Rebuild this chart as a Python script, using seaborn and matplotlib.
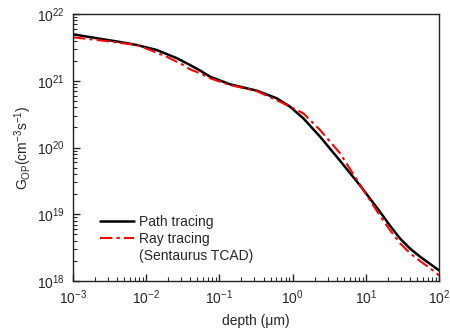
import numpy as np
import pandas as pd
import matplotlib
matplotlib.use('Agg')
import matplotlib.pyplot as plt
import matplotlib.ticker as mticker
import seaborn as sns

sns.set_style('ticks')
plt.rcParams['font.family'] = ['Liberation Sans', 'DejaVu Sans']
plt.rcParams['mathtext.default'] = 'regular'

# path tracing (black), log10 of depth in um and of G_OP
path_logx = [-3.0, -2.586, -2.358, -2.130, -1.857, -1.577, -1.402, -1.265, -1.128,
             -0.855, -0.490, -0.217, -0.036, 0.146, 0.374, 0.648, 0.921, 1.194,
             1.331, 1.467, 1.604, 1.740, 1.877, 2.0]
path_logg = [21.696, 21.621, 21.581, 21.536, 21.461, 21.336, 21.236, 21.154, 21.061,
             20.947, 20.851, 20.737, 20.611, 20.437, 20.162, 19.800, 19.430, 19.034,
             18.825, 18.635, 18.485, 18.364, 18.255, 18.158]

# ray tracing, Sentaurus TCAD (red)
ray_logx = [-3.0, -2.586, -2.130, -1.948, -1.720, -1.493, -1.402, -1.265, -1.128,
            -0.855, -0.490, -0.127, 0.146, 0.374, 0.648, 0.921, 1.194, 1.331,
            1.467, 1.604, 1.740, 1.877, 2.0]
ray_logg = [21.651, 21.600, 21.536, 21.461, 21.360, 21.236, 21.172, 21.112, 21.037,
            20.936, 20.846, 20.662, 20.512, 20.262, 19.913, 19.438, 18.975, 18.760,
            18.565, 18.415, 18.300, 18.190, 18.085]

path = pd.DataFrame({'depth': 10 ** np.array(path_logx), 'G': 10 ** np.array(path_logg)})
ray = pd.DataFrame({'depth': 10 ** np.array(ray_logx), 'G': 10 ** np.array(ray_logg)})

fig = plt.figure(figsize=(4.5, 3.33), dpi=100)
ax = fig.add_axes([0.162, 0.156, 0.814, 0.802])

sns.lineplot(data=path, x='depth', y='G', ax=ax, color='black', lw=1.8,
             label='Path tracing', sort=False)
sns.lineplot(data=ray, x='depth', y='G', ax=ax, color='red', lw=1.5,
             linestyle=(0, (6, 2, 1.5, 2)), label='Ray tracing', sort=False)
# second line of the legend text, no handle
ax.plot([], [], color='none', label='(Sentaurus TCAD)')

ax.set_xscale('log')
ax.set_yscale('log')
ax.set_xlim(1e-3, 1e2)
ax.set_ylim(1e18, 1e22)
ax.xaxis.set_major_locator(mticker.LogLocator(base=10, numticks=10))
ax.yaxis.set_major_locator(mticker.LogLocator(base=10, numticks=10))
ax.xaxis.set_minor_locator(mticker.LogLocator(base=10, subs=np.arange(2, 10), numticks=20))
ax.yaxis.set_minor_locator(mticker.LogLocator(base=10, subs=np.arange(2, 10), numticks=20))
ax.tick_params(which='both', direction='in', top=False, right=False, labelsize=10)
ax.tick_params(which='major', length=5, width=1)
ax.tick_params(which='minor', length=3, width=0.8)
ax.tick_params(axis='y', which='major', pad=6)
ax.tick_params(axis='x', which='major', pad=5)
for s in ax.spines.values():
    s.set_linewidth(1.0)
    s.set_color('#222222')

ax.set_xlabel('depth (\u03bcm)', fontsize=10, labelpad=5)
ax.set_ylabel(r'G$_{OP}$(cm$^{-3}$s$^{-1}$)', fontsize=10, labelpad=2)

leg = ax.legend(loc='lower left', bbox_to_anchor=(0.06, 0.045), frameon=False,
                fontsize=10, handlelength=2.4, handletextpad=0.4, labelspacing=0.25,
                borderaxespad=0)

fig.savefig('out.png', dpi=100)
